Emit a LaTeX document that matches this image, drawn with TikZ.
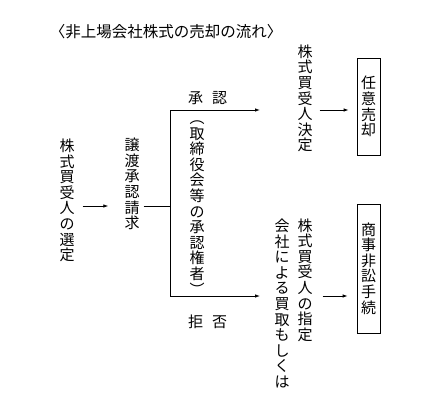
\documentclass[tikz,border=0pt]{standalone}
\usepackage{fontspec}
\setmainfont{Noto Sans CJK JP}
\usetikzlibrary{arrows.meta}
\tikzset{
  vt/.style={inner sep=0pt, align=center, font=\fontsize{15}{15.6}\selectfont},
  hz/.style={inner sep=0pt, font=\fontsize{15}{15.6}\selectfont},
  box/.style={draw, line width=0.8pt, minimum width=23pt},
  ln/.style={line width=0.8pt},
  arr/.style={ln, -{Latex[length=5pt,width=3.5pt]}},
}
\begin{document}
\begin{tikzpicture}[x=1pt,y=-1pt]
\useasboundingbox (0,0) rectangle (443,412);
\node[hz, font=\fontsize{15.5}{16}\selectfont] (title) at (166,32) {〈非上場会社株式の売却の流れ〉};
\node[vt] (c1) at (67,200.5) {株\\式\\買\\受\\人\\の\\選\\定};
\node[vt] (c2) at (132,184) {譲\\渡\\承\\認\\請\\求};
\coordinate (j) at (170,206);
\coordinate (tc) at (170,110);
\coordinate (bc) at (170,296);
\coordinate (te) at (260,110);
\coordinate (be) at (260,296);
\draw[arr, shorten <=8pt, shorten >=16pt] (c1.east |- j) -- (c2.west |- j);
\draw[ln, shorten <=4pt] (c2.east |- j) -- (j);
\draw[ln] (tc) -- (bc);
\draw[arr] (tc) -- (te);
\draw[arr] (bc) -- (be);
\node[vt] (p) at (197,208) {︵\\取\\締\\役\\会\\等\\の\\承\\認\\権\\者\\︶};
\node[hz] (ok) at (207.5,98) {承\hspace{9pt}認};
\node[hz] (ng) at (207.5,322) {拒\hspace{9pt}否};
\node[vt] (c4) at (305,98.5) {株\\式\\買\\受\\人\\決\\定};
\node[vt, box, minimum height=97pt] (b1) at (368.5,106.5) {任\\意\\売\\却};
\node[vt, box, minimum height=129pt] (b2) at (368.5,268.5) {商\\事\\非\\訟\\手\\続};
\node[vt] (c5) at (305,280) {株\\式\\買\\受\\人\\の\\指\\定};
\node[vt] (c6) at (282,303.5) {会\\社\\に\\よ\\る\\買\\取\\も\\し\\く\\は};
\draw[arr, shorten <=7pt, shorten >=8pt] (c4.east |- tc) -- (b1.west |- tc);
\draw[arr, shorten <=10pt, shorten >=9pt] (c5.east |- bc) -- (b2.west |- bc);
\end{tikzpicture}
\end{document}
